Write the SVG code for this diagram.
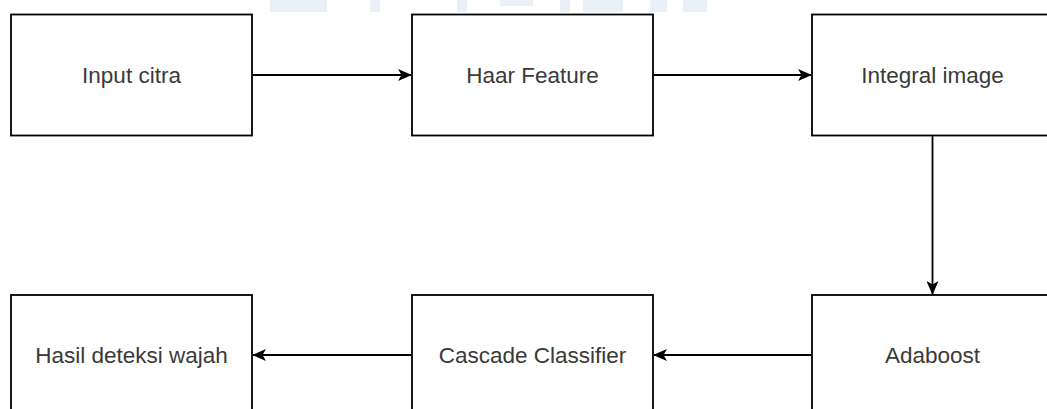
<svg xmlns="http://www.w3.org/2000/svg" width="1047" height="409" viewBox="0 0 1047 409">
<style>
.box{fill:#ffffff;stroke:#000000;stroke-width:1.8}
.lbl{font-family:"Liberation Sans",Arial,sans-serif;font-size:22.5px;fill:#3a3a3a;text-anchor:middle}
.edge{fill:none;stroke:#000000;stroke-width:1.8}
.wm{fill:#e9f0f7}
</style>
<defs>
<marker id="arr" viewBox="0 0 14 12" refX="13" refY="6" markerWidth="14" markerHeight="12" markerUnits="userSpaceOnUse" orient="auto">
<path d="M0,0 L14,6 L0,12 L3.5,6 Z" fill="#000000"/>
</marker>
</defs>
<rect width="1047" height="409" fill="#ffffff"/>
<g id="watermark">
<rect class="wm" x="270" y="0" width="57" height="12"/>
<rect class="wm" x="370" y="0" width="10" height="12"/>
<rect class="wm" x="457" y="0" width="10" height="12"/>
<rect class="wm" x="500" y="0" width="33" height="6"/>
<rect class="wm" x="560" y="0" width="10" height="12"/>
<rect class="wm" x="583" y="0" width="40" height="12"/>
<rect class="wm" x="650" y="0" width="17" height="12"/>
<rect class="wm" x="683" y="0" width="24" height="12"/>
</g>
<g id="connectors">
<line class="edge" x1="252" y1="75" x2="411" y2="75" marker-end="url(#arr)"/>
<line class="edge" x1="653" y1="75" x2="811" y2="75" marker-end="url(#arr)"/>
<line class="edge" x1="932.5" y1="135" x2="932.5" y2="294" marker-end="url(#arr)"/>
<line class="edge" x1="812" y1="355" x2="654" y2="355" marker-end="url(#arr)"/>
<line class="edge" x1="412" y1="355" x2="253" y2="355" marker-end="url(#arr)"/>
</g>
<g id="input-citra">
<rect class="box" x="11" y="14.5" width="241" height="121"/>
<text class="lbl" x="131.5" y="83">Input citra</text>
</g>
<g id="haar-feature">
<rect class="box" x="412" y="14.5" width="241" height="121"/>
<text class="lbl" x="532.5" y="83">Haar Feature</text>
</g>
<g id="integral-image">
<rect class="box" x="812" y="14.5" width="241" height="121"/>
<text class="lbl" x="932.5" y="83">Integral image</text>
</g>
<g id="adaboost">
<rect class="box" x="812" y="295" width="241" height="121"/>
<text class="lbl" x="932.5" y="363">Adaboost</text>
</g>
<g id="cascade-classifier">
<rect class="box" x="412" y="295" width="241" height="121"/>
<text class="lbl" x="532.5" y="363">Cascade Classifier</text>
</g>
<g id="hasil-deteksi-wajah">
<rect class="box" x="11" y="295" width="241" height="121"/>
<text class="lbl" x="131.5" y="363">Hasil deteksi wajah</text>
</g>
</svg>
